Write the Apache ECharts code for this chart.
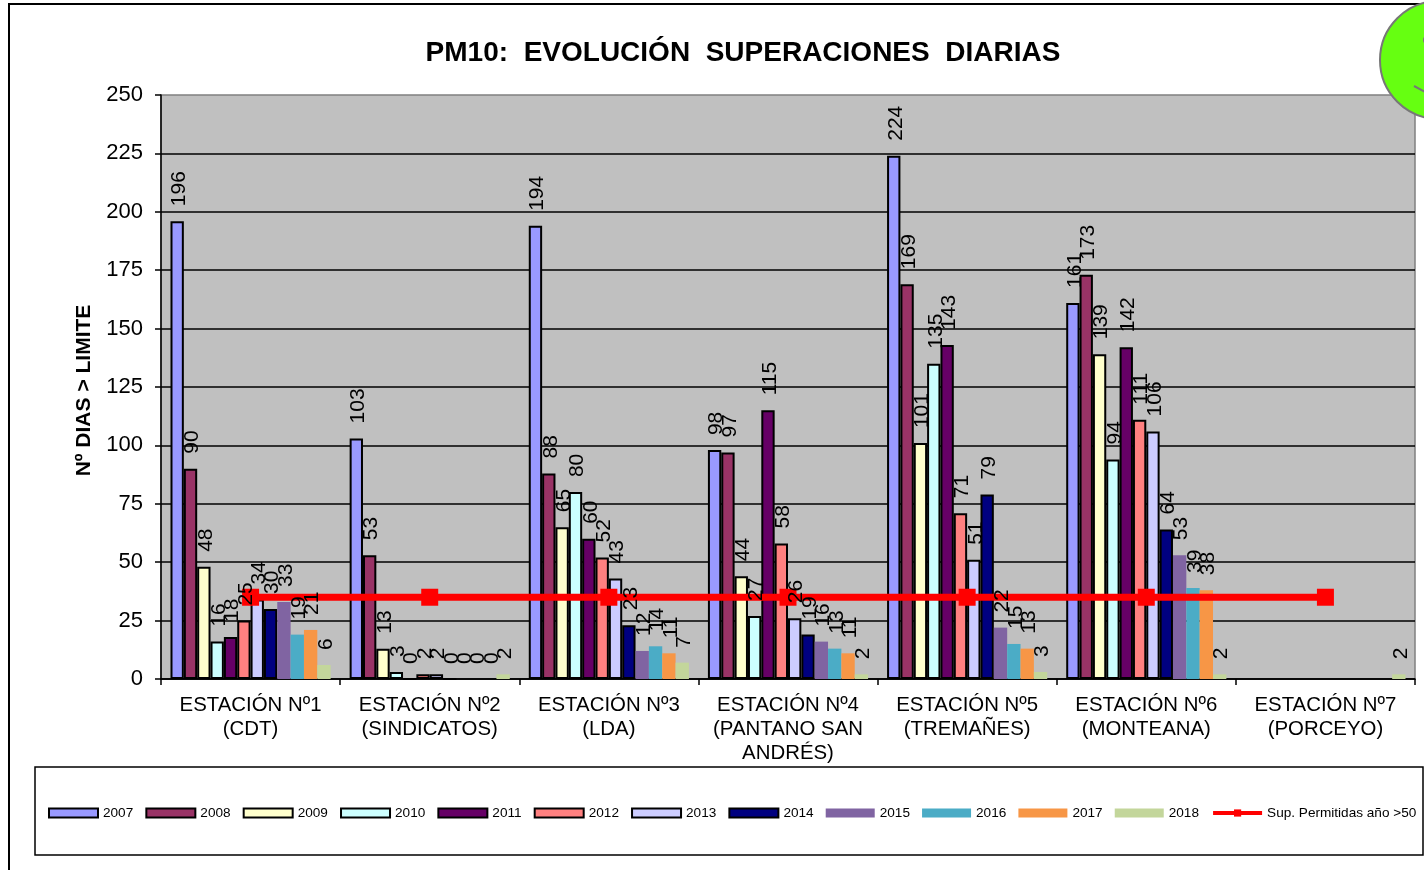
<!DOCTYPE html>
<html>
<head>
<meta charset="utf-8">
<title>PM10</title>
<script src="https://cdn.jsdelivr.net/npm/echarts@6/dist/echarts.min.js"></script>
<style>
html, body { margin: 0; padding: 0; background: #fff; overflow: hidden; }
#chart { width: 1424px; height: 870px; }
</style>
</head>
<body>
<div id="chart"></div>
<script>
var estaciones = ['ESTACIÓN Nº1\n(CDT)', 'ESTACIÓN Nº2\n(SINDICATOS)', 'ESTACIÓN Nº3\n(LDA)', 'ESTACIÓN Nº4\n(PANTANO SAN\nANDRÉS)', 'ESTACIÓN Nº5\n(TREMAÑES)', 'ESTACIÓN Nº6\n(MONTEANA)', 'ESTACIÓN Nº7\n(PORCEYO)'];
var yTicks = [0, 25, 50, 75, 100, 125, 150, 175, 200, 225, 250];

var d2007 = [196, 103, 194, 98, 224, 161, null];
var d2008 = [90, 53, 88, 97, 169, 173, null];
var d2009 = [48, 13, 65, 44, 101, 139, null];
var d2010 = [16, 3, 80, 27, 135, 94, null];
var d2011 = [18, 0, 60, 115, 143, 142, null];
var d2012 = [25, 2, 52, 58, 71, 111, null];
var d2013 = [34, 2, 43, 26, 51, 106, null];
var d2014 = [30, 0, 23, 19, 79, 64, null];
var d2015 = [33, 0, 12, 16, 22, 53, null];
var d2016 = [19, 0, 14, 13, 15, 39, null];
var d2017 = [21, 0, 11, 11, 13, 38, null];
var d2018 = [6, 2, 7, 2, 3, 2, 2];
var permitidas = [35, 35, 35, 35, 35, 35, 35];

var years = ['2007', '2008', '2009', '2010', '2011', '2012', '2013', '2014', '2015', '2016', '2017', '2018'];
var yearData = [d2007, d2008, d2009, d2010, d2011, d2012, d2013, d2014, d2015, d2016, d2017, d2018];
var colors = ['#9999FF', '#993366', '#FFFFCC', '#CCFFFF', '#660066', '#FF8080', '#CCCCFF', '#000080', '#8064A2', '#4BACC6', '#F79646', '#C3D69B'];
var lineName = 'Sup. Permitidas año >50';

var fontName = '"Liberation Sans", Arial, sans-serif';
var series = [];
var legendData = [];
for (var i = 0; i < years.length; i++) {
    legendData.push({ name: years[i], icon: 'rect' });
    series.push({
        name: years[i],
        type: 'bar',
        data: yearData[i],
        barGap: 0,
        barCategoryGap: '10.6%',
        z: 2,
        itemStyle: {
            color: colors[i],
            borderColor: i < 8 ? '#000' : colors[i],   // 2015-2018 go without outline
            borderWidth: i < 8 ? 2 : 0
        }
    });
}
legendData.push({ name: lineName, lineStyle: { width: 4 } });
series.push({
    name: lineName,
    type: 'line',
    data: permitidas,
    symbol: 'rect',
    symbolSize: 17,
    z: 3,
    lineStyle: { color: '#FF0000', width: 7 },
    itemStyle: { color: '#FF0000' }
});
// the numbers sit over every bar and over the red line, so they go in a
// transparent copy of the bars on hidden axes, drawn last
for (var k = 0; k < years.length; k++) {
    series.push({
        name: 'etiqueta ' + years[k],
        type: 'bar',
        xAxisIndex: 1,
        yAxisIndex: 1,
        data: yearData[k],
        barGap: 0,
        barCategoryGap: '10.6%',
        silent: true,
        z: 5,
        itemStyle: { color: 'transparent' },
        label: {
            show: true,
            position: 'top',
            distance: 15,
            offset: [0, 2],
            rotate: 90,
            align: 'left',
            verticalAlign: 'middle',
            color: '#000',
            fontFamily: fontName,
            fontSize: 21
        }
    });
}

var chart = echarts.init(document.getElementById('chart'));
chart.setOption({
    animation: false,
    backgroundColor: '#fff',
    textStyle: { fontFamily: fontName },
    title: {
        text: 'PM10:  EVOLUCIÓN  SUPERACIONES  DIARIAS',
        left: 738,
        top: 34,
        textAlign: 'center',
        textStyle: { fontFamily: fontName, fontSize: 28, fontWeight: 'bold', color: '#000' }
    },
    legend: {
        left: 48,
        top: 806,
        padding: 0,
        itemWidth: 49,
        itemHeight: 9,
        itemGap: 12.1,
        data: legendData,
        textStyle: { fontFamily: fontName, fontSize: 13.6, color: '#000', padding: [4, 0, 0, 0] }
    },
    grid: {
        left: 161,
        right: 9,
        top: 95,
        bottom: 191,
        show: true,
        backgroundColor: '#C0C0C0',
        borderColor: '#808080',
        borderWidth: 1.5
    },
    xAxis: [{
        type: 'category',
        data: estaciones,
        axisLine: { lineStyle: { color: '#000', width: 1.5 } },
        axisTick: { show: true, alignWithLabel: false, length: 6, lineStyle: { color: '#000', width: 1.5 } },
        axisLabel: { color: '#000', fontSize: 20.4, lineHeight: 24, margin: 14, interval: 0, fontFamily: fontName }
    }, {
        type: 'category',
        data: estaciones,
        show: false
    }],
    yAxis: [{
        type: 'value',
        min: yTicks[0],
        max: yTicks[yTicks.length - 1],
        interval: 25,
        name: 'Nº DIAS > LIMITE',
        nameLocation: 'middle',
        nameGap: 66,
        nameTextStyle: { color: '#000', fontSize: 21, fontWeight: 'bold', fontFamily: fontName, padding: [0, 7, 0, 0] },
        axisLine: { show: true, lineStyle: { color: '#000', width: 1.5 } },
        axisTick: { show: true, length: 6, lineStyle: { color: '#000', width: 1.5 } },
        axisLabel: { color: '#000', fontSize: 22, margin: 18, fontFamily: fontName },
        splitLine: { show: true, showMaxLine: false, lineStyle: { color: '#000', width: 1.5 } }
    }, {
        type: 'value',
        min: yTicks[0],
        max: yTicks[yTicks.length - 1],
        interval: 25,
        show: false,
        splitLine: { show: false }
    }],
    graphic: [
        // marco exterior, cortado por el borde derecho e inferior
        { type: 'rect', z: -1, shape: { x: 9, y: 4, width: 1500, height: 1000 }, style: { fill: 'none', stroke: '#000', lineWidth: 2 } },
        // caja de la leyenda
        { type: 'rect', z: -1, shape: { x: 35, y: 767, width: 1388, height: 88 }, style: { fill: '#fff', stroke: '#000', lineWidth: 1.5 } },
        // carita verde de la esquina
        { type: 'circle', z: 50, shape: { cx: 1439, cy: 60, r: 59 }, style: { fill: '#66FF11', stroke: '#777', lineWidth: 2 } },
        { type: 'circle', z: 51, shape: { cx: 1427, cy: 40, r: 4 }, style: { fill: '#777' } },
        { type: 'line', z: 51, shape: { x1: 1414, y1: 86, x2: 1425, y2: 92 }, style: { stroke: '#777', lineWidth: 2 } }
    ],
    series: series
});
</script>
</body>
</html>
